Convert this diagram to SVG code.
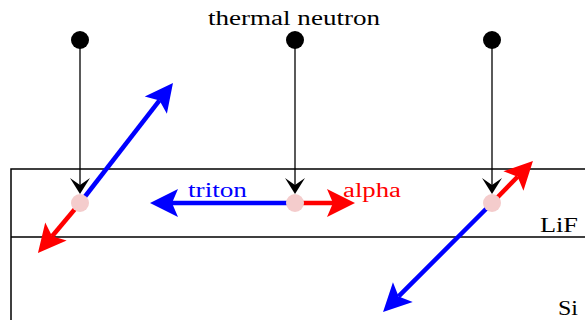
<svg xmlns="http://www.w3.org/2000/svg" width="585" height="320" viewBox="0 0 585 320">
<style>
text{font-family:"Liberation Serif","DejaVu Serif",serif;font-size:20px}
.k{stroke:#000;stroke-width:1.3;fill:none}
.b{stroke:#0000ff;stroke-width:4.5;fill:none}
.r{stroke:#ff0000;stroke-width:4.5;fill:none}
.layer{stroke:#000;stroke-width:1.5;fill:none}
.dot{fill:#000}
.pt{fill:#f4cccc}
</style>
<defs>
<marker id="ak" markerUnits="userSpaceOnUse" viewBox="-8 -10 18 20" refX="0" refY="0" markerWidth="18" markerHeight="20" orient="auto" overflow="visible"><path d="M9,0 L-7,-10 L0,0 L-7,10 Z" fill="#000"/></marker>
<marker id="ab" markerUnits="userSpaceOnUse" viewBox="-8 -15 32 30" refX="0" refY="0" markerWidth="32" markerHeight="30" orient="auto" overflow="visible"><path d="M22,0 L-6,-14 L0,0 L-6,14 Z" fill="#0000ff"/></marker>
<marker id="ar" markerUnits="userSpaceOnUse" viewBox="-8 -15 32 30" refX="0" refY="0" markerWidth="32" markerHeight="30" orient="auto" overflow="visible"><path d="M22,0 L-6,-14 L0,0 L-6,14 Z" fill="#ff0000"/></marker>
</defs>
<g id="layers">
<path class="layer" d="M586,169 H11 V321 M11,237 H586"/>
<text x="540" y="232" textLength="38" lengthAdjust="spacingAndGlyphs">LiF</text>
<text x="558" y="315" textLength="20" lengthAdjust="spacingAndGlyphs">Si</text>
</g>
<text id="title" x="208" y="25" textLength="172" lengthAdjust="spacingAndGlyphs">thermal neutron</text>
<g id="connectors">
<line class="k" x1="80" y1="45" x2="80" y2="185" marker-end="url(#ak)"/>
<line class="k" x1="295" y1="45" x2="295" y2="185" marker-end="url(#ak)"/>
<line class="k" x1="492" y1="45" x2="492" y2="185" marker-end="url(#ak)"/>
<line class="b" x1="80" y1="203" x2="159.5" y2="100.4" marker-end="url(#ab)"/>
<line class="r" x1="80" y1="203" x2="52.1" y2="236.2" marker-end="url(#ar)"/>
<line class="b" x1="295" y1="203" x2="172" y2="203" marker-end="url(#ab)"/>
<line class="r" x1="295" y1="203" x2="333" y2="203" marker-end="url(#ar)"/>
<line class="r" x1="492" y1="203" x2="517.6" y2="176.7" marker-end="url(#ar)"/>
<line class="b" x1="492" y1="203" x2="398.6" y2="296.4" marker-end="url(#ab)"/>
</g>
<g id="n1"><circle class="dot" cx="80" cy="40" r="9"/><circle class="pt" cx="80" cy="203" r="9"/></g>
<g id="n2"><circle class="dot" cx="295" cy="40" r="9"/><circle class="pt" cx="295" cy="203" r="9"/>
<text x="188" y="197" fill="#0000ff" textLength="59" lengthAdjust="spacingAndGlyphs">triton</text>
<text x="343" y="197" fill="#ff0000" textLength="58" lengthAdjust="spacingAndGlyphs">alpha</text></g>
<g id="n3"><circle class="dot" cx="492" cy="40" r="9"/><circle class="pt" cx="492" cy="203" r="9"/></g>
</svg>
